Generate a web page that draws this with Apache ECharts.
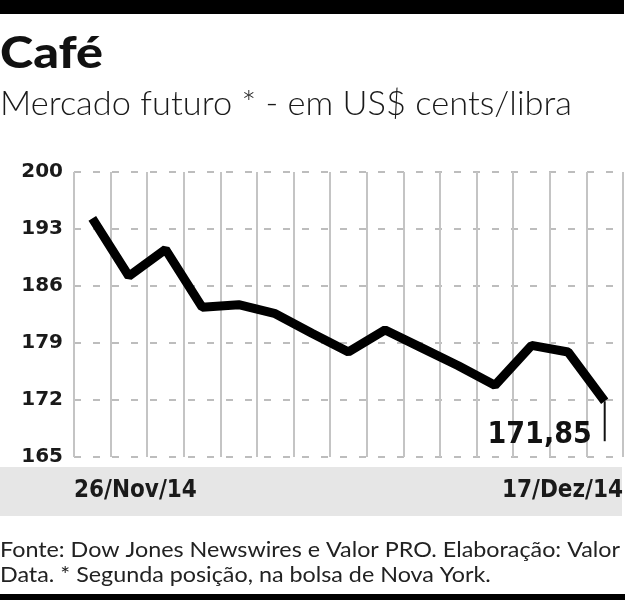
<!DOCTYPE html>
<html>
<head>
<meta charset="utf-8">
<script src="https://cdn.jsdelivr.net/npm/echarts@6/dist/echarts.min.js"></script>
<style>
  html, body { margin: 0; padding: 0; background: #fff; }
  #chart { width: 633px; height: 600px; }
</style>
</head>
<body>
<div id="chart"></div>
<script>
// pregões entre 26/Nov e 17/Dez (27/Nov sem pregão em NY)
const dates = [
  '26/Nov/14', '28/Nov/14', '01/Dez/14', '02/Dez/14', '03/Dez/14',
  '04/Dez/14', '05/Dez/14', '08/Dez/14', '09/Dez/14', '10/Dez/14',
  '11/Dez/14', '12/Dez/14', '15/Dez/14', '16/Dez/14', '17/Dez/14'
]
const prices = [
  194.3, 187.2, 190.5, 183.4, 183.7,
  182.6, 180.2, 177.9, 180.6, 178.4,
  176.2, 173.8, 178.7, 177.9, 171.85
]
const yMin = 165
const yMax = 200
const yStep = 7

const titleText = 'Café'
const subtitleText = 'Mercado futuro * - em US$ cents/libra'
const footerLines = [
  'Fonte: Dow Jones Newswires e Valor PRO. Elaboração: Valor',
  'Data. * Segunda posição, na bolsa de Nova York.'
]

// mede o texto para comprimir na largura da arte original
const measureCtx = document.createElement('canvas').getContext('2d')
function fitScale(text, font, width) {
  measureCtx.font = font
  return width / measureCtx.measureText(text).width
}

const TITLE_FONT = '900 43px Lato'
const SUB_FONT = '300 34px Lato'
const FOOT_FONT = '400 21px Lato'

const chart = echarts.init(document.getElementById('chart'), null, { renderer: 'canvas' })

const lastIdx = prices.length - 1
const seriesData = prices.map((v, i) => {
  if (i !== lastIdx) return v
  return {
    value: v,
    symbol: 'rect',
    symbolSize: [2, 40],
    symbolOffset: [0, 20],
    itemStyle: { color: '#111' },
    label: {
      show: true,
      position: 'left',
      distance: 12,
      offset: [0, 14],
      formatter: (p) => p.value.toFixed(2).replace('.', ','),
      fontFamily: '"DejaVu Sans Condensed", sans-serif',
      fontWeight: 'bold',
      fontSize: 30,
      color: '#111'
    }
  }
})

const option = {
  animation: false,
  backgroundColor: '#fff',
  grid: { left: 74, right: 10, top: 172, bottom: 143 },
  xAxis: [
    {
      type: 'category',
      data: dates,
      boundaryGap: true,
      axisLine: { show: false },
      axisTick: { show: false },
      axisLabel: { show: false },
      splitLine: { show: true, interval: 0, lineStyle: { color: '#c4c4c4', width: 2 } }
    },
    {
      // eixo só para os rótulos das pontas
      type: 'value',
      position: 'bottom',
      min: 0,
      max: dates.length,
      interval: dates.length,
      axisLine: { show: false },
      axisTick: { show: false },
      splitLine: { show: false },
      axisLabel: {
        margin: 22,
        alignMinLabel: 'left',
        alignMaxLabel: 'right',
        formatter: (v) => (v === 0 ? dates[0] : dates[lastIdx]),
        fontFamily: '"DejaVu Sans Condensed", sans-serif',
        fontWeight: 'bold',
        fontSize: 24,
        color: '#1a1a1a'
      }
    }
  ],
  yAxis: {
    type: 'value',
    min: yMin,
    max: yMax,
    interval: yStep,
    axisLine: { show: false },
    axisTick: { show: false },
    axisLabel: {
      margin: 11,
      fontFamily: '"DejaVu Sans", sans-serif',
      fontWeight: 'bold',
      fontSize: 20,
      color: '#1a1a1a'
    },
    splitLine: { show: true, lineStyle: { color: '#bdbdbd', width: 2, type: [7, 12] } }
  },
  series: [
    {
      type: 'line',
      xAxisIndex: 0,
      data: seriesData,
      showSymbol: true,
      symbol: 'none',
      lineStyle: { color: '#000', width: 9 },
      z: 5
    }
  ],
  graphic: [
    { type: 'rect', z: -10, shape: { x: 0, y: 0, width: 624, height: 14 }, style: { fill: '#000' } },
    { type: 'rect', z: -10, shape: { x: 0, y: 467, width: 622, height: 49 }, style: { fill: '#e6e6e6' } },
    { type: 'rect', z: -10, shape: { x: 0, y: 594, width: 625, height: 6 }, style: { fill: '#000' } },
    {
      type: 'text', x: 0, y: 54,
      scaleX: fitScale(titleText, TITLE_FONT, 103),
      style: { text: titleText, font: TITLE_FONT, fill: '#111', verticalAlign: 'middle' }
    },
    {
      type: 'text', x: 0, y: 104,
      scaleX: fitScale(subtitleText, SUB_FONT, 572),
      style: { text: subtitleText, font: SUB_FONT, fill: '#1a1a1a', verticalAlign: 'middle' }
    },
    {
      type: 'text', x: 0, y: 550,
      scaleX: fitScale(footerLines[0], FOOT_FONT, 620),
      style: { text: footerLines[0], font: FOOT_FONT, fill: '#222', verticalAlign: 'middle' }
    },
    {
      type: 'text', x: 0, y: 575,
      scaleX: fitScale(footerLines[0], FOOT_FONT, 620),
      style: { text: footerLines[1], font: FOOT_FONT, fill: '#222', verticalAlign: 'middle' }
    }
  ]
}

chart.setOption(option)
</script>
</body>
</html>
